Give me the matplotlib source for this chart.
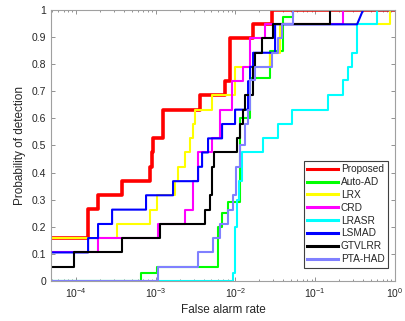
import numpy as np
import matplotlib.pyplot as plt

plt.rcParams['font.family'] = ['Liberation Sans', 'DejaVu Sans']

# ROC curves: log10(false alarm rate) and probability of detection
red_lf = [-4.31, -3.849, -3.849, -3.724, -3.724, -3.423, -3.423, -3.072, -3.072, -3.046, -3.046,
          -3.034, -3.034, -2.908, -2.908, -2.444, -2.444, -2.130, -2.130, -2.068, -2.068,
          -1.779, -1.779, -1.541, -1.541, 0]
red_pd = [0.159, 0.159, 0.266, 0.266, 0.316, 0.316, 0.37, 0.37, 0.421, 0.421, 0.474,
          0.474, 0.526, 0.526, 0.632, 0.632, 0.686, 0.686, 0.737, 0.737, 0.895,
          0.895, 0.947, 0.947, 1.0, 1.0]

green_lf = [-4.31, -3.184, -3.184, -2.984, -2.984, -2.218, -2.218, -2.168, -2.168, -2.093, -2.093,
            -1.942, -1.942, -1.817, -1.817, -1.729, -1.566, -1.566, -1.403, -1.403, -1.277, -1.277, 0]
green_pd = [0, 0, 0.028, 0.028, 0.053, 0.053, 0.2, 0.2, 0.25, 0.25, 0.29,
            0.29, 0.6, 0.6, 0.75, 0.75, 0.75, 0.85, 0.85, 0.974, 0.974, 1.0, 1.0]

yellow_lf = [-4.31, -3.486, -3.486, -3.072, -3.072, -2.984, -2.984, -2.758, -2.758, -2.720, -2.720,
             -2.632, -2.632, -2.570, -2.570, -2.532, -2.532, -2.507, -2.507, -2.294, -2.294,
             -2.005, -2.005, -1.566, -1.566, -1.440, -1.440, -0.060, -0.060, 0]
yellow_pd = [0.158, 0.158, 0.21, 0.21, 0.263, 0.263, 0.316, 0.316, 0.368, 0.368, 0.421,
             0.421, 0.474, 0.474, 0.526, 0.526, 0.579, 0.579, 0.632, 0.632, 0.686,
             0.686, 0.79, 0.79, 0.842, 0.842, 0.947, 0.947, 1.0, 1.0]

magenta_lf = [-4.31, -3.724, -3.724, -2.971, -2.971, -2.632, -2.632, -2.532, -2.532, -2.469, -2.469,
              -2.294, -2.294, -2.193, -2.193, -2.043, -2.043, -1.905, -1.905, -1.817, -1.817,
              -1.629, -1.629, -0.650, -0.650, 0]
magenta_pd = [0.105, 0.105, 0.158, 0.158, 0.21, 0.21, 0.263, 0.263, 0.368, 0.368, 0.474,
              0.474, 0.526, 0.526, 0.632, 0.632, 0.737, 0.737, 0.79, 0.79, 0.895,
              0.895, 0.947, 0.947, 1.0, 1.0]

cyan_lf = [-4.31, -2.030, -2.030, -2.005, -2.005, -1.980, -1.980, -1.955, -1.955, -1.917, -1.917,
           -1.654, -1.654, -1.465, -1.465, -1.290, -1.290, -0.838, -0.838, -0.650, -0.650,
           -0.587, -0.587, -0.537, -0.537, -0.474, -0.474, -0.223, -0.223, 0]
cyan_pd = [0, 0, 0.03, 0.03, 0.2, 0.2, 0.3, 0.3, 0.37, 0.37, 0.474,
           0.474, 0.526, 0.526, 0.58, 0.58, 0.632, 0.632, 0.686, 0.686, 0.74,
           0.74, 0.79, 0.79, 0.842, 0.842, 0.947, 0.947, 1.0, 1.0]

blue_lf = [-4.31, -3.849, -3.849, -3.724, -3.724, -3.548, -3.548, -3.122, -3.122, -2.783, -2.783,
           -2.469, -2.469, -2.419, -2.419, -2.344, -2.344, -2.168, -2.168, -2.005, -2.005,
           -1.842, -1.842, -1.817, -1.817, -1.779, -1.779, -1.503, -1.503, -0.474, -0.399, 0]
blue_pd = [0.105, 0.105, 0.158, 0.158, 0.21, 0.21, 0.263, 0.263, 0.316, 0.316, 0.368,
           0.368, 0.421, 0.421, 0.474, 0.474, 0.526, 0.526, 0.579, 0.579, 0.632,
           0.632, 0.737, 0.737, 0.79, 0.79, 0.842, 0.842, 0.947, 0.947, 1.0, 1.0]

black_lf = [-4.31, -4.025, -4.025, -3.423, -3.423, -2.946, -2.946, -2.381, -2.381, -2.319, -2.319,
            -2.294, -2.294, -2.269, -2.269, -1.980, -1.980, -1.942, -1.942, -1.905, -1.905,
            -1.880, -1.880, -1.779, -1.779, -1.754, -1.754, -1.666, -1.666, -1.528, -1.528,
            -0.813, -0.813, 0]
black_pd = [0.053, 0.053, 0.105, 0.105, 0.158, 0.158, 0.21, 0.21, 0.263, 0.263, 0.316,
            0.316, 0.42, 0.42, 0.474, 0.474, 0.526, 0.526, 0.58, 0.58, 0.632,
            0.632, 0.686, 0.686, 0.79, 0.79, 0.842, 0.842, 0.895, 0.895, 0.947,
            0.947, 1.0, 1.0]

lav_lf = [-4.31, -2.971, -2.971, -2.469, -2.469, -2.281, -2.281, -2.193, -2.193, -2.093, -2.093,
          -2.030, -2.030, -1.993, -1.993, -1.942, -1.942, -1.880, -1.880, -1.842, -1.842,
          -1.817, -1.817, -1.754, -1.754, -1.541, -1.541, -1.465, -1.465, -1.415, -1.415,
          -1.277, -1.277, 0]
lav_pd = [0, 0, 0.053, 0.053, 0.105, 0.105, 0.158, 0.158, 0.21, 0.21, 0.263,
          0.263, 0.316, 0.316, 0.42, 0.42, 0.5, 0.5, 0.58, 0.58, 0.63,
          0.63, 0.74, 0.74, 0.79, 0.79, 0.842, 0.842, 0.895, 0.895, 0.947,
          0.947, 1.0, 1.0]

names = ['Proposed', 'Auto-AD', 'LRX', 'CRD', 'LRASR', 'LSMAD', 'GTVLRR', 'PTA-HAD']
colors = ['#ff0000', '#00ff00', '#ffff00', '#ff00ff', '#00ffff', '#0000ff', '#000000', '#8080ff']
curves = [(red_lf, red_pd), (green_lf, green_pd), (yellow_lf, yellow_pd), (magenta_lf, magenta_pd),
          (cyan_lf, cyan_pd), (blue_lf, blue_pd), (black_lf, black_pd), (lav_lf, lav_pd)]

fig = plt.figure(figsize=(4.05, 3.21), dpi=100)
ax = fig.add_axes([0.126, 0.125, 0.849, 0.844])

for (lf, pd), name, c in zip(curves, names, colors):
    lw = 2.6 if name == 'Proposed' else 1.5
    ax.plot(10 ** np.array(lf), pd, color=c, lw=lw, label=name)

ax.set_xscale('log')
ax.set_xlim(10 ** -4.314, 1)
ax.set_ylim(0, 1)
ax.set_yticks(np.arange(0, 1.01, 0.1))
ax.set_yticklabels(['0', '0.1', '0.2', '0.3', '0.4', '0.5', '0.6', '0.7', '0.8', '0.9', '1'])
ax.set_xticks([1e-4, 1e-3, 1e-2, 1e-1, 1])

gray = '#262626'
for s in ax.spines.values():
    s.set_color('#a0a0a0')
    s.set_linewidth(0.8)
ax.tick_params(which='both', direction='in', top=True, right=True, colors='#808080',
               labelcolor=gray, labelsize=7.5, width=0.6)
ax.tick_params(which='major', length=3)
ax.tick_params(which='minor', length=1.6)

ax.set_xlabel('False alarm rate', fontsize=8.5, color=gray, labelpad=3)
ax.set_ylabel('Probability of detection', fontsize=8.5, color=gray, labelpad=4)

leg = ax.legend(loc='lower right', fontsize=7.3, handlelength=3.0, labelspacing=0.28,
                borderpad=0.35, handletextpad=0.3, fancybox=False, framealpha=1,
                bbox_to_anchor=(0.995, 0.03))
leg.get_frame().set_edgecolor('#404040')
leg.get_frame().set_linewidth(0.8)
for t in leg.get_texts():
    t.set_color(gray)
for h in leg.get_lines():
    h.set_linewidth(2.2)

fig.savefig('out.png', dpi=100)
